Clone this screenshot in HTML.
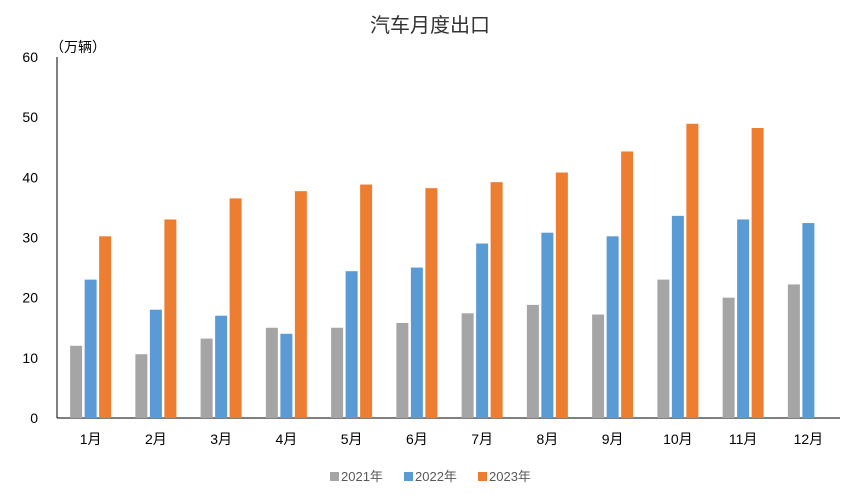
<!DOCTYPE html>
<html><head><meta charset="utf-8"><style>
body{margin:0;background:#fff;width:846px;height:499px;overflow:hidden;font-family:"Liberation Sans","Noto Sans CJK SC",sans-serif}
</style></head><body>
<svg width="846" height="499" xmlns="http://www.w3.org/2000/svg">
<text x="430" y="32" text-anchor="middle" font-size="20" fill="#333" font-family="Liberation Sans, Noto Sans CJK SC, sans-serif">汽车月度出口</text>
<text x="50" y="52" font-size="14" fill="#000" font-family="Liberation Sans, Noto Sans CJK SC, sans-serif">（万辆）</text>
<g id="plot"></g>
<g id="legend"></g>
</svg>
<script>
const categories=["1月","2月","3月","4月","5月","6月","7月","8月","9月","10月","11月","12月"];
const s2021=[12,10.6,13.2,15,15,15.8,17.4,18.8,17.2,23,20,22.2];
const s2022=[23,18,17,14,24.4,25,29,30.8,30.2,33.6,33,32.4];
const s2023=[30.2,33,36.5,37.7,38.8,38.2,39.2,40.8,44.3,48.9,48.2,null];
const seriesNames=["2021年","2022年","2023年"];
const yTicks=[0,10,20,30,40,50,60];
const colors=["#A5A5A5","#5B9BD5","#ED7D31"];
const NS="http://www.w3.org/2000/svg";
const x0=57,x1=840,yTop=57,yBot=418,yMax=60;
const y=v=>yBot-(v/yMax)*(yBot-yTop);
const band=(x1-x0)/categories.length;
const cx=i=>x0+band*(i+0.5);
const plot=document.getElementById('plot');
function mk(t,a){const e=document.createElementNS(NS,t);for(const k in a)e.setAttribute(k,a[k]);return e;}
yTicks.forEach(t=>{
 const e=mk('text',{x:38,y:y(t)+5,'text-anchor':'end','font-size':14,fill:'#000'});
 e.textContent=t;
 
 
 plot.appendChild(e);
});
const ax=mk('line',{x1:x0,x2:x0,y1:yTop,y2:yBot,stroke:'#000','stroke-width':1});


plot.appendChild(ax);
const xa=mk('line',{x1:x0,x2:x1,y1:yBot,y2:yBot,stroke:'#000','stroke-width':1});


plot.appendChild(xa);
const all=[s2021,s2022,s2023];const bw=12,step=14.5;
categories.forEach((c,i)=>{
 all.forEach((s,j)=>{
  const v=s[i];if(v==null)return;
  const r=mk('rect',{x:cx(i)+(j-1)*step-bw/2+1,y:y(v),width:bw,height:yBot-y(v),fill:colors[j]});
  
  
  plot.appendChild(r);
 });
 const t=mk('text',{x:cx(i)+1,y:444,'text-anchor':'middle','font-size':14,fill:'#000'});
 t.textContent=c;
 
 
 plot.appendChild(t);
});
const lg=document.getElementById('legend');
const lx=[330,404,478];
seriesNames.forEach((n,j)=>{
 const r=mk('rect',{x:lx[j],y:472,width:9,height:9,fill:colors[j]});
 
 
 lg.appendChild(r);
 const t=mk('text',{x:lx[j]+11,y:481,'font-size':13,fill:'#595959'});
 t.textContent=n;
 
 
 lg.appendChild(t);
});
</script>
</body></html>
